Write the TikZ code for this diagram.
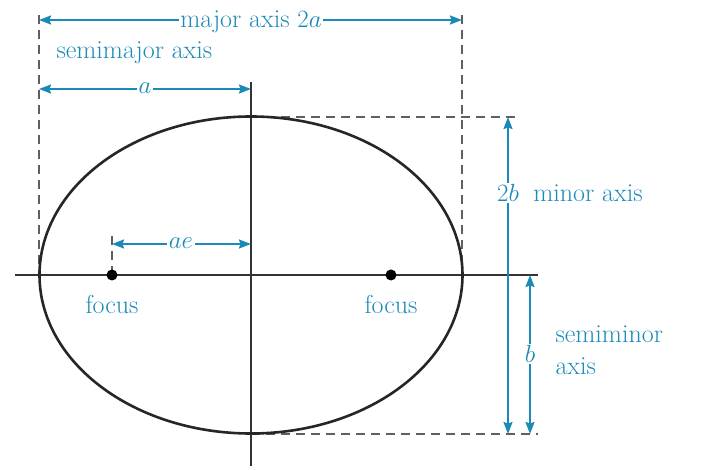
\documentclass[tikz,border=0pt]{standalone}
\usetikzlibrary{arrows.meta}
\definecolor{dimblue}{RGB}{28,138,182}
\definecolor{guidegray}{RGB}{95,95,95}

\begin{document}
\begin{tikzpicture}[x=1pt, y=-1pt, line width=1pt,
    every node/.style={font=\fontsize{26}{30}\selectfont, text=dimblue, inner sep=1.5pt},
    dimline/.style={dimblue, line width=1.8pt, {Stealth[length=12pt,width=9pt,inset=1.5pt]}-{Stealth[length=12pt,width=9pt,inset=1.5pt]}},
    guide/.style={guidegray, line width=1.4pt, dash pattern=on 9pt off 6pt},
    lbl/.style={fill=white}]
  \useasboundingbox (0,0) rectangle (702,470);

  \coordinate (O) at (251,275);
  \coordinate (F1) at (112,275);
  \coordinate (F2) at (391,275);

  \draw[guide] (39,15) -- (39,275);
  \draw[guide] (462,15) -- (462,275);
  \draw[guide] (251,117) -- (516,117);
  \draw[guide] (251,434) -- (538,434);
  \draw[guide] (112,236) -- (112,270);

  \draw[black!80, line width=1.2pt] (15,275) -- (538,275);
  \draw[black!80, line width=1.2pt] (251,82) -- (251,466);
  \draw[black!85, line width=2.6pt] (O) ellipse [x radius=211.5pt, y radius=158.5pt];

  \fill (F1) circle (5.5pt);
  \fill (F2) circle (5.5pt);
  \node[anchor=base] (foc1) at (112,314) {focus};
  \node[anchor=base] (foc2) at (391,314) {focus};

  \draw[dimline] (39,20) -- (462,20);
  \node[lbl, anchor=base] (maj) at (251,28) {major axis $2a$};
  \node[anchor=base west, inner sep=0pt] (semimaj) at (56,59) {semimajor axis};

  \draw[dimline] (39,89) -- (251,89);
  \node[lbl] (alen) at (145,88) {$a$};

  \draw[dimline] (112,244) -- (251,244);
  \node[lbl] (aelen) at (181,243) {$ae$};

  \draw[dimline] (508,117) -- (508,434);
  \node[lbl] (twob) at (508,193) {$2b$};
  \node[anchor=base west, inner sep=0pt] (minor) at ([xshift=12pt]twob.base east) {minor axis};

  \draw[dimline] (530,275) -- (530,434);
  \node[lbl] (blen) at (530,354) {$b$};
  \node[anchor=base west, inner sep=0pt] (semimin1) at (555,343) {semiminor};
  \node[anchor=base west, inner sep=0pt] (semimin2) at (555,375) {axis};
\end{tikzpicture}
\end{document}
